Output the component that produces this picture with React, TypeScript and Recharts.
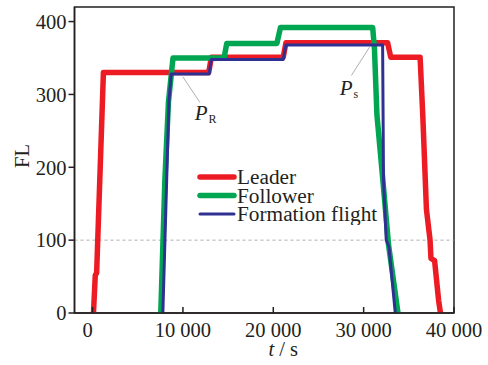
import { LineChart, Line, XAxis, YAxis, Legend, ReferenceLine, ReferenceArea, ReferenceDot, Label } from 'recharts'

const xTicks = [0, 10000, 20000, 30000, 40000]
const yTicks = [0, 100, 200, 300, 400]
const seriesNames = ['Leader', 'Follower', 'Formation flight']

const leaderT = [100, 300, 450, 1200, 12850, 13150, 21100, 21400, 32650, 33000, 36250, 36550, 36950, 37350, 37450, 37850, 38300, 38500]
const leaderFL = [0, 52, 55, 330, 330, 351, 351, 371, 371, 351, 351, 270, 142, 100, 75, 72, 17, 0]

const followerT = [7550, 8000, 8400, 8900, 14550, 14850, 20400, 20800, 31000, 31200, 31470, 32130, 32760, 33800]
const followerFL = [0, 182, 290, 350, 350, 370, 370, 392, 392, 362, 272, 182, 93, 0]

const formationT = [7780, 8200, 8450, 8700, 12900, 13150, 21100, 21400, 32100, 32200, 32500, 32800, 33500]
const formationFL = [0, 182, 290, 328, 328, 348, 348, 368, 368, 182, 100, 91, 0]

const toRows = (t: number[], fl: number[]) => t.map((v, i) => ({ t: v, fl: fl[i] }))

const leader = toRows(leaderT, leaderFL)
const follower = toRows(followerT, followerFL)
const formation = toRows(formationT, formationFL)

const font = 'Liberation Serif, Times New Roman, DejaVu Serif, serif'
const ink = '#231f20'
const legendWidths: Record<string, number> = { Leader: 5.5, Follower: 5.5, 'Formation flight': 3 }

const fmt = (v: number) => (v === 0 ? '0' : `${Math.floor(v / 1000)} 000`)

const XTick = (props: any) => {
  const { x, y, payload } = props
  const dx = payload.value === 0 ? -5 : 0
  return (
    <g>
      <line x1={x} y1={y} x2={x} y2={y - 6} stroke={ink} strokeWidth={1.5} />
      <text x={x + dx} y={y + 24} textAnchor="middle" fontSize={20.5} style={{ fontFamily: font }} fill={ink}>
        {fmt(payload.value)}
      </text>
    </g>
  )
}

const renderLegend = (props: any) => {
  const items = [...(props.payload || [])].sort((a: any, b: any) => seriesNames.indexOf(a.value) - seriesNames.indexOf(b.value))
  return (
    <svg width={240} height={60} style={{ display: 'block' }}>
      {items.map((e: any, i: number) => {
        const y = 12 + i * 18.5
        return (
          <g key={e.value}>
            <line x1={10} x2={44} y1={y} y2={y} stroke={e.color} strokeWidth={legendWidths[e.value]} strokeLinecap="round" />
            <text x={47} y={y + 7} fontSize={21.3} style={{ fontFamily: font }} fill={ink}>
              {e.value}
            </text>
          </g>
        )
      })}
    </svg>
  )
}

const pLabel = (sub: string) => (props: any) => {
  const { viewBox } = props
  return (
    <text x={viewBox.x} y={viewBox.y} style={{ fontFamily: font }} fill={ink}>
      <tspan fontSize={21} fontStyle="italic">P</tspan>
      <tspan fontSize={12} dx={1} dy={3}>{sub}</tspan>
    </text>
  )
}

export default function App() {
  return (
    <div style={{ position: 'absolute', left: 0, top: 0, fontFamily: font }}>
      <LineChart width={488} height={365} data={leader} margin={{ top: 7, right: 34, left: 0, bottom: 0 }}>
        <XAxis
          dataKey="t"
          type="number"
          domain={[-2000, 40000]}
          ticks={xTicks}
          allowDataOverflow
          height={52}
          tickSize={0}
          tickMargin={0}
          tickLine={false}
          axisLine={{ stroke: ink, strokeWidth: 1.5 }}
          tick={<XTick />}
          interval={0}
        >
          <Label
            content={(p: any) => {
              const vb = p.viewBox
              return (
                <text x={vb.x + vb.width / 2 + 19} y={356} textAnchor="middle" fontSize={20.5} style={{ fontFamily: font }} fill={ink}>
                  <tspan fontStyle="italic">t</tspan> / s
                </text>
              )
            }}
          />
        </XAxis>
        <YAxis
          type="number"
          domain={[0, 420]}
          ticks={yTicks}
          allowDataOverflow
          width={74.5}
          tickSize={6}
          tickMargin={2}
          tickLine={{ stroke: ink, strokeWidth: 1.5 }}
          axisLine={{ stroke: ink, strokeWidth: 1.5 }}
          tick={{ fontSize: 20.5, fontFamily: font, fill: ink, style: { fontFamily: font } }}
          interval={0}
        >
          <Label
            content={() => (
              <text x={29} y={156} transform="rotate(-90 29 156)" textAnchor="middle" fontSize={20.5} style={{ fontFamily: font }} fill={ink}>
                FL
              </text>
            )}
          />
        </YAxis>
        <ReferenceLine y={100} stroke="#9a9a9a" strokeDasharray="3 3" strokeWidth={0.8} />
        <ReferenceArea x1={-2000} x2={40000} y1={0} y2={420} fill="none" stroke={ink} strokeWidth={1.5} />
        <Line data={leader} dataKey="fl" name="Leader" type="linear" stroke="#ed1c24" strokeWidth={5.5} dot={false} strokeLinejoin="round" strokeLinecap="round" isAnimationActive={false} />
        <Line data={follower} dataKey="fl" name="Follower" type="linear" stroke="#00a651" strokeWidth={5.5} dot={false} strokeLinejoin="round" strokeLinecap="round" isAnimationActive={false} />
        <Line data={formation} dataKey="fl" name="Formation flight" type="linear" stroke="#2e3192" strokeWidth={3} dot={false} strokeLinejoin="round" strokeLinecap="round" isAnimationActive={false} />
        <ReferenceLine segment={[{ x: 10000, y: 324 }, { x: 11880, y: 289 }]} stroke="#9a9a9a" strokeWidth={0.8} />
        <ReferenceLine segment={[{ x: 30660, y: 365 }, { x: 28640, y: 326 }]} stroke="#9a9a9a" strokeWidth={0.8} />
        <ReferenceDot x={11300} y={265} r={0} fill="none" stroke="none" label={pLabel('R')} />
        <ReferenceDot x={27350} y={299} r={0} fill="none" stroke="none" label={pLabel('s')} />
        <Legend
          layout="vertical"
          align="center"
          verticalAlign="middle"
          content={renderLegend}
          wrapperStyle={{ position: 'absolute', left: 190, top: 165, width: 240, height: 60 }}
        />
      </LineChart>
    </div>
  )
}
